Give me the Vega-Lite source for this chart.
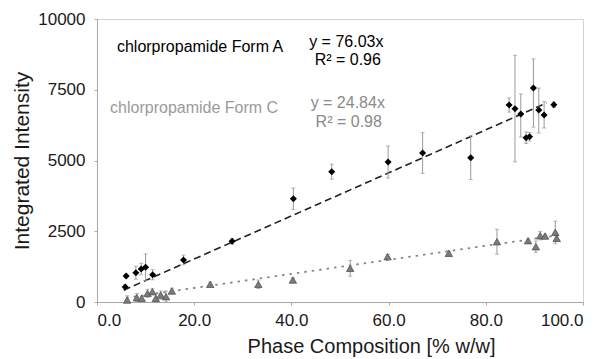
{
  "$schema": "https://vega.github.io/schema/vega-lite/v6.json",
  "width": 486,
  "height": 283,
  "autosize": {"type": "none"},
  "padding": {"left": 97, "top": 19, "right": 17, "bottom": 57},
  "background": "white",
  "config": {
    "font": "Liberation Sans",
    "view": {"stroke": "#d4d4d4", "strokeWidth": 1},
    "axis": {"grid": false, "domainColor": "#a8a8a8", "tickColor": "#a8a8a8", "labelColor": "#1a1a1a", "titleColor": "#1a1a1a", "labelFont": "Liberation Sans", "titleFont": "Liberation Sans", "labelFontSize": 17, "titleFontSize": 20, "titleFontWeight": "normal", "tickSize": 3}
  },
  "datasets": {
    "formA": [
      {"x": 5.8, "y": 530, "lo": 450, "hi": 610},
      {"x": 6.0, "y": 920, "lo": 860, "hi": 980},
      {"x": 8.0, "y": 1035, "lo": 805, "hi": 1265},
      {"x": 9.1, "y": 1166, "lo": 966, "hi": 1366},
      {"x": 10.0, "y": 1226, "lo": 760, "hi": 1700},
      {"x": 11.45, "y": 965, "lo": 785, "hi": 1145},
      {"x": 17.8, "y": 1484, "lo": 1314, "hi": 1654},
      {"x": 27.8, "y": 2145, "lo": 2045, "hi": 2245},
      {"x": 40.4, "y": 3650, "lo": 3270, "hi": 4030},
      {"x": 48.3, "y": 4605, "lo": 4340, "hi": 4870},
      {"x": 59.9, "y": 4947, "lo": 4380, "hi": 5510},
      {"x": 67.0, "y": 5265, "lo": 4545, "hi": 5985},
      {"x": 76.9, "y": 5100, "lo": 4330, "hi": 5870},
      {"x": 84.8, "y": 6961, "lo": 6710, "hi": 7210},
      {"x": 86.0, "y": 6830, "lo": 4950, "hi": 8720},
      {"x": 87.2, "y": 6643, "lo": 5830, "hi": 7350},
      {"x": 88.3, "y": 5806, "lo": 5600, "hi": 6010},
      {"x": 89.0, "y": 5841, "lo": 5690, "hi": 5990},
      {"x": 89.8, "y": 7562, "lo": 6180, "hi": 8590},
      {"x": 90.9, "y": 6784, "lo": 5970, "hi": 7560},
      {"x": 92.0, "y": 6608, "lo": 6150, "hi": 7080},
      {"x": 94.0, "y": 6972, "lo": 6870, "hi": 7070}
    ],
    "formC": [
      {"x": 6.2, "y": 70, "lo": 0, "hi": 220},
      {"x": 8.2, "y": 153, "lo": 20, "hi": 300},
      {"x": 9.2, "y": 130, "lo": 50, "hi": 210},
      {"x": 10.4, "y": 306, "lo": 160, "hi": 450},
      {"x": 11.4, "y": 365, "lo": 265, "hi": 465},
      {"x": 12.1, "y": 130, "lo": 0, "hi": 310},
      {"x": 13.1, "y": 247, "lo": 100, "hi": 390},
      {"x": 14.2, "y": 188, "lo": 0, "hi": 390},
      {"x": 15.4, "y": 389, "lo": 290, "hi": 490},
      {"x": 23.3, "y": 625, "lo": 545, "hi": 705},
      {"x": 33.2, "y": 625, "lo": 475, "hi": 775},
      {"x": 40.3, "y": 777, "lo": 700, "hi": 855},
      {"x": 52.1, "y": 1190, "lo": 910, "hi": 1470},
      {"x": 59.8, "y": 1602, "lo": 1520, "hi": 1680},
      {"x": 72.4, "y": 1720, "lo": 1660, "hi": 1780},
      {"x": 82.3, "y": 2131, "lo": 1690, "hi": 2570},
      {"x": 88.7, "y": 2167, "lo": 2120, "hi": 2215},
      {"x": 90.3, "y": 1955, "lo": 1755, "hi": 2155},
      {"x": 91.2, "y": 2344, "lo": 2195, "hi": 2495},
      {"x": 92.2, "y": 2332, "lo": 2270, "hi": 2395},
      {"x": 94.3, "y": 2462, "lo": 2060, "hi": 2860},
      {"x": 94.6, "y": 2250, "lo": 2150, "hi": 2350}
    ],
    "fitA": [{"x": 5.5, "y": 418}, {"x": 92.5, "y": 7033}],
    "fitC": [{"x": 6.0, "y": 149}, {"x": 94.6, "y": 2350}],
    "labelsA": [
      {"x": 4.1, "y": 9010, "t": "chlorpropamide Form A"}
    ],
    "eqA": [
      {"x": 51.3, "y": 9190, "t": "y = 76.03x"},
      {"x": 51.6, "y": 8550, "t": "R² = 0.96"}
    ],
    "labelsC": [
      {"x": 2.7, "y": 6855, "t": "chlorpropamide Form C"}
    ],
    "eqC": [
      {"x": 51.6, "y": 7030, "t": "y = 24.84x"},
      {"x": 51.8, "y": 6360, "t": "R² = 0.98"}
    ]
  },
  "encoding": {
    "x": {"field": "x", "type": "quantitative", "scale": {"domain": [0, 100], "nice": false, "padding": 0}, "axis": {"values": [0, 20, 40, 60, 80, 100], "format": ".1f", "labelPadding": 7, "title": "Phase Composition [% w/w]", "titlePadding": 8, "titleX": 274, "titleAnchor": "middle"}},
    "y": {"field": "y", "type": "quantitative", "scale": {"domain": [0, 10000], "nice": false, "padding": 0}, "axis": {"values": [0, 2500, 5000, 7500, 10000], "format": "d", "labelPadding": 9, "title": "Integrated Intensity", "titleFontSize": 21, "titlePadding": 5}}
  },
  "layer": [
    {"data": {"name": "fitC"}, "mark": {"type": "line", "color": "#888", "strokeWidth": 1.8, "strokeDash": [2.5, 5]}},
    {"data": {"name": "fitA"}, "mark": {"type": "line", "color": "#222", "strokeWidth": 1.6, "strokeDash": [7, 4]}},
    {"data": {"name": "formC"}, "mark": {"type": "rule", "color": "#999", "strokeWidth": 1}, "encoding": {"y": {"field": "lo", "type": "quantitative"}, "y2": {"field": "hi"}}},
    {"data": {"name": "formC"}, "mark": {"type": "tick", "orient": "horizontal", "color": "#999", "size": 4, "thickness": 1}, "encoding": {"y": {"field": "lo", "type": "quantitative"}}},
    {"data": {"name": "formC"}, "mark": {"type": "tick", "orient": "horizontal", "color": "#999", "size": 4, "thickness": 1}, "encoding": {"y": {"field": "hi", "type": "quantitative"}}},
    {"data": {"name": "formA"}, "mark": {"type": "rule", "color": "#999", "strokeWidth": 1}, "encoding": {"y": {"field": "lo", "type": "quantitative"}, "y2": {"field": "hi"}}},
    {"data": {"name": "formA"}, "mark": {"type": "tick", "orient": "horizontal", "color": "#999", "size": 4, "thickness": 1}, "encoding": {"y": {"field": "lo", "type": "quantitative"}}},
    {"data": {"name": "formA"}, "mark": {"type": "tick", "orient": "horizontal", "color": "#999", "size": 4, "thickness": 1}, "encoding": {"y": {"field": "hi", "type": "quantitative"}}},
    {"data": {"name": "formC"}, "mark": {"type": "point", "shape": "triangle-up", "filled": true, "color": "#7a7a7a", "stroke": "#555", "strokeWidth": 0.8, "size": 55, "opacity": 1}},
    {"data": {"name": "formA"}, "mark": {"type": "point", "shape": "diamond", "filled": true, "color": "#000", "size": 50, "opacity": 1}},
    {"data": {"name": "labelsA"}, "mark": {"type": "text", "align": "left", "baseline": "middle", "fontSize": 16, "color": "#000", "font": "Liberation Sans"}, "encoding": {"text": {"field": "t"}}},
    {"data": {"name": "eqA"}, "mark": {"type": "text", "align": "center", "baseline": "middle", "fontSize": 16, "color": "#000", "font": "Liberation Sans"}, "encoding": {"text": {"field": "t"}}},
    {"data": {"name": "labelsC"}, "mark": {"type": "text", "align": "left", "baseline": "middle", "fontSize": 16, "color": "#9a9a9a", "font": "Liberation Sans"}, "encoding": {"text": {"field": "t"}}},
    {"data": {"name": "eqC"}, "mark": {"type": "text", "align": "center", "baseline": "middle", "fontSize": 16, "color": "#8a8a8a", "font": "Liberation Sans"}, "encoding": {"text": {"field": "t"}}}
  ]
}
